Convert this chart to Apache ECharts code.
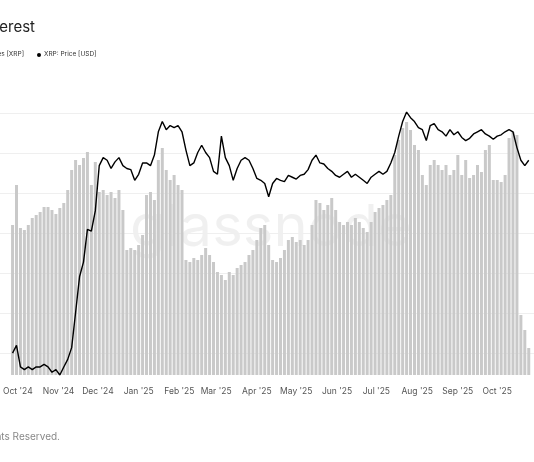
<!DOCTYPE html>
<html>
<head>
<meta charset="utf-8">
<script src="https://cdn.jsdelivr.net/npm/echarts@6/dist/echarts.min.js"></script>
<style>html,body{margin:0;padding:0;background:#fff}#chart{width:534px;height:462px}</style>
</head>
<body>
<div id="chart"></div>
<script>
// 3-day samples starting 27 Sep 2024
const startDate = Date.UTC(2024, 8, 27);
const stepDays = 3;
const openInterest = [750,950,735,725,750,785,800,815,840,840,825,805,835,860,925,1025,1075,1050,1085,1115,
  950,1065,915,925,900,915,885,925,825,625,635,625,650,700,900,915,875,1075,1135,1025,
  975,1000,950,925,575,565,585,575,600,635,600,565,515,500,475,515,500,535,550,565,
  600,625,675,735,750,650,575,565,585,625,675,690,665,675,650,675,750,875,860,825,
  850,885,825,765,750,765,750,785,765,735,715,765,815,835,850,875,900,1100,1175,1235,
  1265,1225,1150,1125,1000,950,1050,1075,1050,1025,1050,1000,1025,1100,1000,1075,985,1000,1050,1015,
  1125,1150,975,975,965,1000,1185,1215,1200,300,225,135];
const price = [0.556,0.59,0.50,0.49,0.50,0.49,0.50,0.50,0.51,0.50,0.48,0.49,0.47,0.50,0.53,0.58,0.76,1.0,1.12,1.44,
  1.42,1.66,2.35,2.5,2.45,2.3,2.42,2.5,2.35,2.3,2.28,2.1,2.2,2.4,2.4,2.35,2.55,3.05,3.3,3.1,
  3.2,3.15,3.2,3.05,2.65,2.35,2.4,2.6,2.75,2.6,2.5,2.25,2.2,2.95,2.5,2.35,2.1,2.3,2.45,2.5,
  2.45,2.3,2.13,2.1,2.05,1.85,2.05,2.13,2.1,2.08,2.18,2.15,2.12,2.18,2.2,2.28,2.45,2.55,2.4,2.38,
  2.3,2.25,2.18,2.15,2.2,2.25,2.15,2.2,2.15,2.1,2.05,2.15,2.2,2.25,2.2,2.25,2.4,2.6,2.95,3.3,
  3.55,3.4,3.3,3.15,3.1,2.85,3.2,3.25,3.1,3.05,2.95,3.1,2.98,3.05,2.92,2.85,2.9,3.0,3.05,3.1,
  3.0,2.95,2.88,2.95,2.98,3.05,3.1,3.05,2.7,2.45,2.35,2.45];
const monthNames = ['Jan','Feb','Mar','Apr','May','Jun','Jul','Aug','Sep','Oct','Nov','Dec'];
const monthTicks = [];
for (let m = 9; m <= 21; m++) monthTicks.push(Date.UTC(2024, m, 1));

const DAY = 86400000;
const dateAt = i => startDate + i * stepDays * DAY;
const oiData = openInterest.map((v, i) => [dateAt(i), v]);
const priceData = price.map((v, i) => [dateAt(i), v]);
const xMin = startDate - DAY, xMax = startDate + 397 * DAY;

const chart = echarts.init(document.getElementById('chart'));
chart.setOption({
  animation: false,
  grid: [
    { left: 0, right: 0, top: 85, bottom: 87 },
    { left: 0, right: 0, top: 113, bottom: 109 }
  ],
  xAxis: [{
    type: 'value', gridIndex: 0, min: xMin, max: xMax, scale: true,
    axisLine: { show: false }, axisTick: { show: false }, splitLine: { show: false },
    axisLabel: {
      color: '#555', fontSize: 8.5, fontFamily: 'Inter', margin: 12,
      customValues: monthTicks,
      formatter: v => { const d = new Date(v); return monthNames[d.getUTCMonth()] + " '" + String(d.getUTCFullYear()).slice(2); }
    }
  }, {
    type: 'value', gridIndex: 1, show: false
  }],
  yAxis: [{
    type: 'value', min: 0, max: 1450, show: false, splitLine: { show: false }
  }, {
    type: 'log', min: 0.47, max: 4.37, show: false, splitLine: { show: false }
  }, {
    type: 'value', gridIndex: 1, min: 0, max: 6, interval: 1,
    axisLine: { show: false }, axisTick: { show: false }, axisLabel: { show: false },
    splitLine: { lineStyle: { color: '#efefef', width: 1 } }
  }],
  graphic: [
    { type: 'text', left: 130, top: 200, z: 0, style: { text: 'glassnode', font: '58px Inter', fill: 'rgba(0,0,0,0.06)' } },
    { type: 'text', x: 35, y: 20, style: { text: 'XRP: Futures Open Interest', font: '15px Inter', fill: '#222', textAlign: 'right' } },
    { type: 'text', x: 24, y: 51, style: { text: 'XRP: Futures Open Interest in Futures [XRP]', font: '6.5px Inter', fill: '#333', textAlign: 'right' } },
    { type: 'circle', shape: { cx: 39, cy: 55, r: 2 }, style: { fill: '#000' } },
    { type: 'text', x: 44, y: 51, style: { text: 'XRP: Price [USD]', font: '6.5px Inter', fill: '#333' } },
    { type: 'text', x: 60, y: 432, style: { text: '© 2025 Glassnode. All Rights Reserved.', font: '10px Inter', fill: '#888', textAlign: 'right' } }
  ],
  series: [{
    type: 'bar', xAxisIndex: 0, yAxisIndex: 0, data: oiData,
    barWidth: 3, itemStyle: { color: '#c9c9c9' }, z: 1
  }, {
    type: 'line', xAxisIndex: 0, yAxisIndex: 1, data: priceData,
    showSymbol: false, lineStyle: { color: '#000', width: 1.4 }, z: 3
  }]
});
</script>
</body>
</html>
